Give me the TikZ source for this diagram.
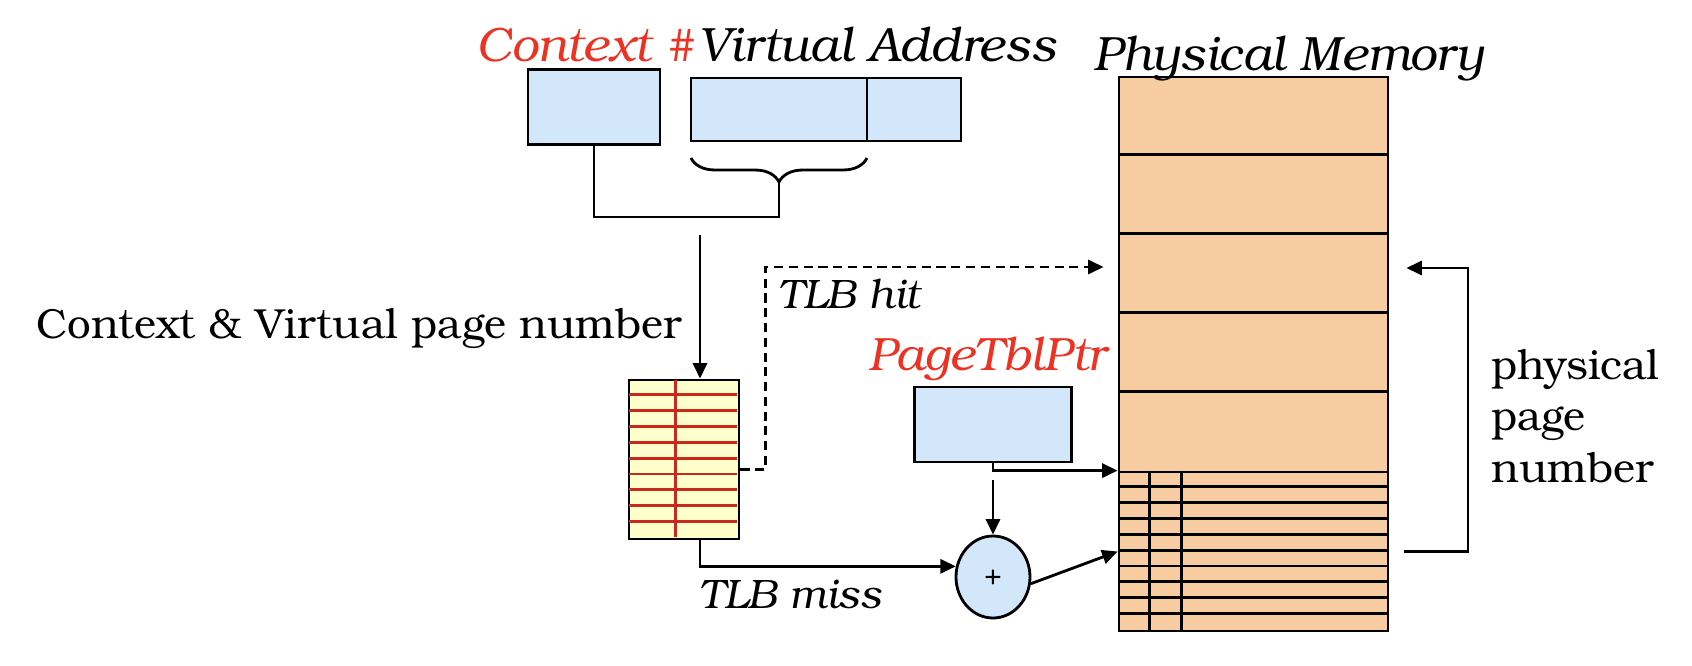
\documentclass[tikz,border=0pt]{standalone}
\usepackage{fontspec}
\setmainfont{texgyrebonum}[Extension=.otf, UprightFont=*-regular, ItalicFont=*-italic, BoldFont=*-bold]
\usetikzlibrary{arrows.meta, shapes.geometric, positioning, decorations.pathreplacing}

\definecolor{regblue}{RGB}{210,232,250}
\definecolor{mempeach}{RGB}{247,204,160}
\definecolor{tlbyellow}{RGB}{255,255,204}
\definecolor{tlbred}{RGB}{200,40,30}
\definecolor{lblred}{RGB}{235,50,35}

\begin{document}
\begin{tikzpicture}[x=0.1mm, y=-0.1mm, line width=0.8pt,
	>={Triangle[length=4.4pt,width=4pt]},
	reg/.style={draw, rectangle, fill=regblue, inner sep=0pt, outer sep=0pt},
	memblock/.style={draw, rectangle, fill=mempeach, inner sep=0pt, minimum width=26.9mm},
	lbl/.style={inner sep=0pt, font=\fontsize{11.95}{14.8}\selectfont},
	title/.style={inner sep=0pt, font=\fontsize{13.7}{16}\selectfont\itshape},
	tag/.style={inner sep=0pt, font=\fontsize{11.7}{14}\selectfont\itshape}]
	\useasboundingbox (0,0) rectangle (1692,666);
	
	% registers
	\node[reg, minimum width=13.2mm, minimum height=7.5mm] (ctx) at (594,107) {};
	\node[reg, minimum width=17.6mm, minimum height=6.3mm] (vpn) at (779,109.5) {};
	\node[reg, minimum width=9.4mm, minimum height=6.3mm, right=0pt of vpn] (off) {};
	\node[reg, minimum width=15.7mm, minimum height=7.5mm] (ptp) at (993,424.5) {};
	\node[draw, ellipse, fill=regblue, inner sep=0pt, minimum width=7.4mm, minimum height=8.2mm,
		font=\fontsize{8}{8}\selectfont] (add) at (993,577) {+};
	
	% TLB
	\node[draw, rectangle, fill=tlbyellow, inner sep=0pt, minimum width=11mm, minimum height=15.9mm] (tlb) at (684,459.5) {};
	\foreach \i in {1,...,9}
		\draw[tlbred] ([shift={(1,\i*15.9)}]tlb.north west) -- ++(108,0);
	\draw[tlbred] ([shift={(48,1)}]tlb.north west) -- ++(0,157);
	
	% physical memory
	\node[memblock, minimum height=55.4mm] (mem) at (1253.5,354) {};
	\foreach \i in {1,...,4}
		\draw ([shift={(0,\i*79)}]mem.north west) -- ++(269,0);
	\node[memblock, minimum height=15.9mm] (pt) at (1253.5,551.5) {};
	\foreach \i in {1,...,9}
		\draw ([shift={(0,\i*15.9)}]pt.north west) -- ++(269,0);
	\foreach \x in {32,64}
		\draw ([shift={(\x,0)}]pt.north west) -- ++(0,159);
	
	% labels
	\node[title, text=lblred, anchor=base west] (ctxl) at (475,61) {Context \#};
	\node[title, anchor=base west] (val) at (ctxl.base east) {Virtual Address};
	\node[title, anchor=base west] (meml) at (1092,70) {Physical Memory};
	\node[title, text=lblred, anchor=base west, font=\fontsize{13.3}{16}\selectfont\itshape] (ptpl) at (867,370) {PageTblPtr};
	\node[tag, anchor=base west] (hit) at (777,308) {TLB hit};
	\node[tag, anchor=base west] (miss) at (698,608) {TLB miss};
	\node[lbl, anchor=base east] (cvl) at (683,338) {Context \& Virtual page number};
	\node[lbl, anchor=base west, align=left, font=\fontsize{11.95}{14.6}\selectfont] (ppn) at (1490,482) {physical\\page\\number};
	
	% connectors
	\draw[decorate, decoration={brace, mirror, amplitude=2.4mm}]
		([shift={(0,17)}]vpn.south west) -- ([shift={(0,17)}]vpn.south east);
	\coordinate (tip) at ([shift={(0,41)}]vpn.south);
	\draw (ctx.south) |- ([shift={(0,76)}]vpn.south) -- (tip);
	\coordinate (cv) at (700,235);
	\draw[->] (cv) -- (cv |- tlb.north);
	\coordinate (fr) at ([shift={(0,-87)}]mem.west);
	\draw[->, dash pattern=on 2.6pt off 1.6pt, shorten >=1.4mm]
		([shift={(0,10)}]tlb.east) -- ++(25,0) |- (fr);
	\draw[->] (tlb.south -| cv) |- (add.164);
	\draw[->] (ptp.south) |- (pt.north west);
	\draw[->] ([shift={(0,18)}]ptp.south) -- (add.north);
	\draw[->] (add.-10) -- (pt.west);
	\coordinate (ret) at (1468,268);
	\draw[->] ([xshift=1.5mm]pt.east) -| (ret) -- ([xshift=1.7mm]mem.east |- ret);
\end{tikzpicture}
\end{document}
